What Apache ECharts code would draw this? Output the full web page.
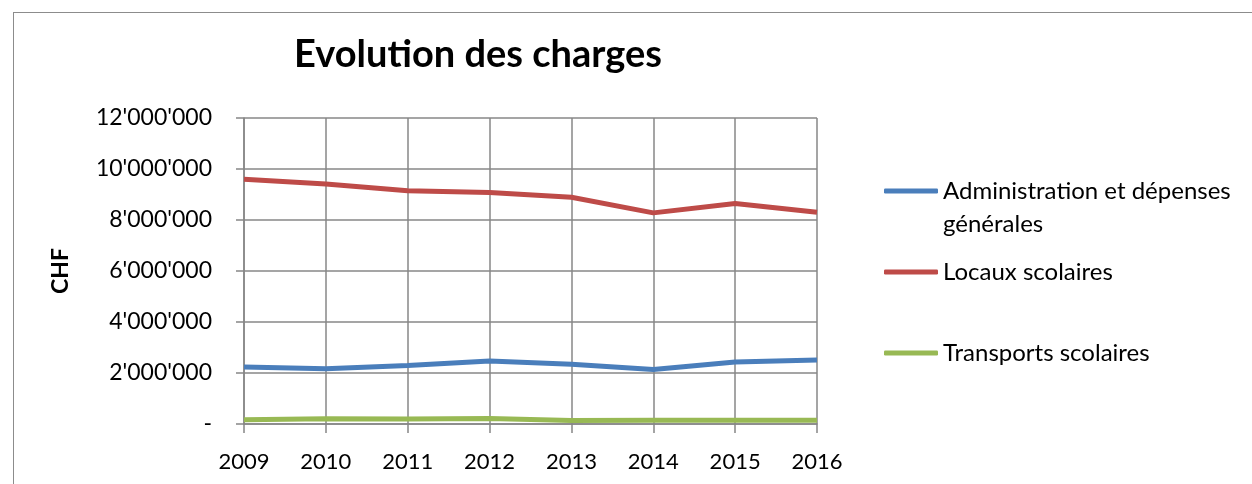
<!DOCTYPE html>
<html>
<head>
<meta charset="utf-8">
<script src="https://cdn.jsdelivr.net/npm/echarts@6/dist/echarts.min.js"></script>
<style>
	html, body { margin: 0; padding: 0; background: #fff; }
	.frame { position: absolute; left: 13px; top: 12px; width: 1260px; height: 500px; border-left: 1.5px solid #8c8c8c; border-top: 1.5px solid #8c8c8c; }
	#echart { position: absolute; left: 0; top: 0; width: 1252px; height: 484px; }
</style>
</head>
<body>
<div class="frame"></div>
<div id="echart"></div>
<script>
	// données
	var years = ['2009', '2010', '2011', '2012', '2013', '2014', '2015', '2016'];
	var admin = [2240000, 2170000, 2290000, 2470000, 2340000, 2140000, 2430000, 2510000];
	var locaux = [9600000, 9410000, 9150000, 9080000, 8890000, 8280000, 8650000, 8300000];
	var transports = [170000, 210000, 200000, 220000, 140000, 150000, 150000, 150000];
	var names = ['Administration et dépenses générales', 'Locaux scolaires', 'Transports scolaires'];

	var font = 'Lato, "Open Sans", sans-serif';
	var gridColor = '#878787';

	function fmt(v) {
		if (v === 0) return '-';
		return String(v).replace(/\B(?=(\d{3})+(?!\d))/g, "'");
	}

	function legendItem(name, top) {
		return {
			data: [name],
			left: 884,
			top: top,
			padding: 0,
			orient: 'vertical',
			icon: 'roundRect',
			itemWidth: 54,
			itemHeight: 5,
			selectedMode: false,
			formatter: function (n) {
				if (n === names[0]) return '\nAdministration et dépenses\ngénérales';
				return n;
			},
			textStyle: { fontFamily: font, fontSize: 24, color: '#000', lineHeight: 33 }
		};
	}

	var myChart = echarts.init(document.getElementById('echart'), null, { renderer: 'canvas' });

	var option = {
		animation: false,
		title: {
			text: 'Evolution des charges',
			left: 473,
			textAlign: 'center',
			top: 31,
			textStyle: { fontFamily: font, fontSize: 38, fontWeight: 'bold', color: '#000' }
		},
		legend: [
			legendItem(names[0], 141.5),
			legendItem(names[1], 255.5),
			legendItem(names[2], 336.5)
		],
		grid: { left: 244, right: 435, top: 118, bottom: 60, containLabel: false },
		xAxis: {
			type: 'category',
			data: years,
			boundaryGap: false,
			axisLine: { lineStyle: { color: gridColor, width: 1.5 } },
			axisTick: { show: true, length: 9, alignWithLabel: true, lineStyle: { color: gridColor, width: 1.5 } },
			axisLabel: { margin: 27, fontFamily: font, fontSize: 22, color: '#000' },
			splitLine: { show: true, lineStyle: { color: gridColor, width: 1.5 } }
		},
		yAxis: {
			type: 'value',
			min: 0,
			max: 12000000,
			interval: 2000000,
			name: 'CHF',
			nameLocation: 'middle',
			nameGap: 172,
			nameRotate: 90,
			nameTextStyle: { fontFamily: font, fontSize: 23, fontWeight: 'bold', color: '#000' },
			axisLine: { show: true, lineStyle: { color: gridColor, width: 1.5 } },
			axisTick: { show: true, length: 8, lineStyle: { color: gridColor, width: 1.5 } },
			axisLabel: { margin: 32, fontFamily: font, fontSize: 23, color: '#000', formatter: fmt },
			splitLine: { show: true, lineStyle: { color: gridColor, width: 1.5 } }
		},
		series: [
			{ name: names[0], type: 'line', data: admin, showSymbol: false, lineStyle: { width: 5, color: '#4a7ebb' }, itemStyle: { color: '#4a7ebb' } },
			{ name: names[1], type: 'line', data: locaux, showSymbol: false, lineStyle: { width: 5, color: '#be4b48' }, itemStyle: { color: '#be4b48' } },
			{ name: names[2], type: 'line', data: transports, showSymbol: false, lineStyle: { width: 5, color: '#98b954' }, itemStyle: { color: '#98b954' } }
		]
	};

	myChart.setOption(option);
</script>
</body>
</html>
